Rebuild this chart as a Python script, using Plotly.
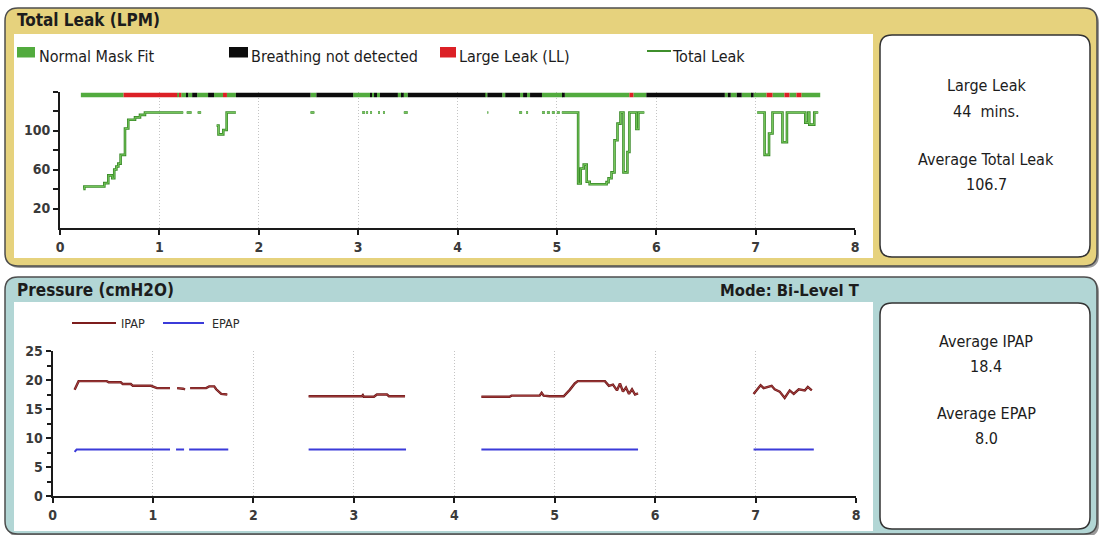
import plotly.graph_objects as go

W, H = 1102, 535
FONT = "DejaVu Sans Condensed, Liberation Sans, Arial, sans-serif"

# ---------------- data ----------------
hour_ticks = [0, 1, 2, 3, 4, 5, 6, 7, 8]
hour_tick_text = ["0", "1", "2", "3", "4", "5", "6", "7", "8"]
leak_ticks = [20, 40, 60, 80, 100, 120, 140]
leak_tick_text = ["20", "", "60", "", "100", "", ""]
pressure_ticks = [0, 5, 10, 15, 20, 25]
pressure_tick_text = ["0", "5", "10", "15", "20", "25"]
pressure_minor_ticks = [2.5, 7.5, 12.5, 17.5, 22.5]

# mask-fit status band: segment start (hours) and status code
status_start = [0.21, 0.64, 1.18, 1.20, 1.22, 1.27, 1.29, 1.33, 1.38, 1.49, 1.55, 1.64, 1.68,
                1.77, 2.52, 2.58, 2.95, 3.12, 3.14, 3.16, 3.19, 3.22, 3.40, 3.44, 3.46, 3.50,
                4.28, 4.30, 4.45, 4.48, 4.63, 4.66, 4.70, 4.73, 4.85, 5.06, 5.08, 5.73, 5.77,
                5.90, 6.69, 6.72, 6.75, 6.81, 6.86, 6.96, 6.98, 7.11, 7.17, 7.29, 7.34, 7.41, 7.46]
status_code = ["N", "L", "N", "L", "N", "B", "N", "B", "N", "B", "N", "L", "N",
               "B", "N", "B", "N", "B", "N", "B", "N", "B", "N", "B", "N", "B",
               "N", "B", "N", "B", "N", "B", "N", "B", "N", "B", "N", "L", "N",
               "B", "N", "B", "N", "B", "N", "B", "N", "L", "N", "L", "N", "L", "N"]
status_stop = 7.65
status_names = {"N": "Normal Mask Fit", "B": "Breathing not detected", "L": "Large Leak (LL)"}
status_colors = {"N": "#52ab3e", "B": "#0c0c0c", "L": "#dc2026"}

# total leak (LPM), step line, None = no data
leak_hours = [0.234, 0.245, 0.446, 0.486, 0.526, 0.546, 0.567, 0.587, 0.61, 0.654, 0.687, 0.755, 0.805, 0.855, 1.24, None,
              1.275, 1.325, None, 1.385, 1.42, None,
              1.576, 1.595, 1.643, 1.677, 1.77, None,
              2.52, 2.56, None, 3.04, 3.07, None, 3.08, 3.10, None, 3.12, 3.14, None, 3.20, 3.22, None,
              3.25, 3.27, None, 3.46, 3.50, None, 4.30, 4.31, None, 4.62, 4.65, None, 4.69, 4.71, None,
              4.85, 4.88, None, 4.90, 4.93, None, 4.95, 4.98, None, 5.00, 5.03, None,
              5.05, 5.214, 5.24, 5.27, 5.30, 5.33, 5.50, 5.52, 5.55, 5.58, 5.61, 5.64, 5.67, 5.71, 5.73, 5.80, 5.82, 5.88, None,
              7.015, 7.09, 7.135, 7.17, 7.27, 7.315, 7.50, 7.53, 7.54, 7.59, 7.63]
leak_lpm = [40, 42.5, 46, 54, 51, 60, 63, 66, 75, 102, 111, 113.5, 116, 118.5, 118.5, None,
            118.5, 118.5, None, 118.5, 118.5, None,
            105, 96, 100.5, 118.5, 118.5, None,
            118.5, 118.5, None, 118.5, 118.5, None, 118.5, 118.5, None, 118.5, 118.5, None, 118.5, 118.5, None,
            118.5, 118.5, None, 118.5, 118.5, None, 118.5, 118.5, None, 118.5, 118.5, None, 118.5, 118.5, None,
            118.5, 118.5, None, 118.5, 118.5, None, 118.5, 118.5, None, 118.5, 118.5, None,
            118.5, 45.8, 61, 65, 47.5, 44.8, 47, 51, 57, 90, 107, 118.5, 57, 78, 118.5, 101.5, 118.5, 118.5, None,
            118.5, 75, 97, 118.5, 88, 118.5, 108, 118.5, 106, 118.5, 118.5]

# pressures (cmH2O)
ipap_hours = [0.22, 0.25, 0.26, 0.54, 0.56, 0.68, 0.70, 0.78, 0.80, 0.98, 1.00, 1.02, 1.04, 1.17, None,
              1.24, 1.29, 1.30, 1.32, None,
              1.37, 1.53, 1.56, 1.61, 1.63, 1.66, 1.68, 1.74, None,
              2.55, 3.08, 3.09, 3.10, 3.20, 3.23, 3.33, 3.35, 3.51, None,
              4.27, 4.55, 4.57, 4.85, 4.87, 4.89, 4.95, 5.09, 5.15, 5.20, 5.23, 5.50, 5.54, 5.58, 5.62,
              5.65, 5.68, 5.71, 5.74, 5.77, 5.80, 5.83, None,
              6.98, 7.01, 7.05, 7.08, 7.12, 7.16, 7.19, 7.24, 7.29, 7.34, 7.38, 7.43, 7.49, 7.52, 7.56]
ipap_cmh2o = [18.3, 19.4, 19.8, 19.8, 19.6, 19.6, 19.3, 19.3, 19.0, 19.0, 18.9, 18.8, 18.6, 18.6, None,
              18.6, 18.6, 18.5, 18.4, None,
              18.6, 18.6, 18.9, 18.9, 18.4, 17.9, 17.6, 17.5, None,
              17.2, 17.2, 17.4, 17.1, 17.1, 17.5, 17.5, 17.2, 17.2, None,
              17.1, 17.1, 17.3, 17.3, 17.8, 17.3, 17.2, 17.2, 18.3, 19.4, 19.8, 19.8, 19.0, 19.2, 18.2,
              19.4, 18.0, 18.7, 17.6, 18.4, 17.5, 17.7, None,
              17.6, 18.3, 19.1, 18.6, 18.8, 19.0, 18.4, 18.0, 16.9, 18.2, 17.6, 18.4, 18.2, 18.8, 18.2]
epap_hours = [0.22, 0.24, 1.17, None, 1.23, 1.31, None, 1.36, 1.75, None,
              2.55, 3.52, None, 4.27, 5.83, None, 6.98, 7.58]
epap_cmh2o = [7.6, 8.0, 8.0, None, 8.0, 8.0, None, 8.0, 8.0, None,
              8.0, 8.0, None, 8.0, 8.0, None, 8.0, 8.0]

leak_summary = [("Large Leak", 85), ("44\u00a0 mins.", 111), ("Average Total Leak", 159), ("106.7", 185)]
pressure_summary = [("Average IPAP", 341), ("18.4", 366), ("Average EPAP", 413), ("8.0", 438)]

# ---------------- helpers (pixel -> paper) ----------------
def fx(x):
    return x / W


def fy(y):
    return 1 - y / H


def rrect(x0, y0, x1, y1, r):
    P = lambda x, y: f"{fx(x):.5f},{fy(y):.5f}"
    return (f"M{P(x0 + r, y0)} L{P(x1 - r, y0)} Q{P(x1, y0)} {P(x1, y0 + r)} "
            f"L{P(x1, y1 - r)} Q{P(x1, y1)} {P(x1 - r, y1)} L{P(x0 + r, y1)} "
            f"Q{P(x0, y1)} {P(x0, y1 - r)} L{P(x0, y0 + r)} Q{P(x0, y0)} {P(x0 + r, y0)} Z")


shapes = []
annotations = []


def add_path(path, fill, line_color=None, line_width=0):
    shapes.append(dict(type="path", path=path, xref="paper", yref="paper", fillcolor=fill,
                       line=dict(color=line_color or fill, width=line_width), layer="below"))


def add_rect(x0, y0, x1, y1, fill):
    shapes.append(dict(type="rect", xref="paper", yref="paper", x0=fx(x0), x1=fx(x1), y0=fy(y1), y1=fy(y0),
                       fillcolor=fill, line=dict(width=0), layer="below"))


def add_line(x0, y0, x1, y1, color, width):
    shapes.append(dict(type="line", xref="paper", yref="paper", x0=fx(x0), x1=fx(x1), y0=fy(y0), y1=fy(y1),
                       line=dict(color=color, width=width), layer="above"))


def add_text(x, y, s, size, bold=False, anchor="left", color="#1c1c1c"):
    annotations.append(dict(x=fx(x), y=fy(y), xref="paper", yref="paper", text=s, showarrow=False,
                            xanchor=anchor, yanchor="middle",
                            font=dict(family=FONT, size=size, color=color,
                                      weight="bold" if bold else "normal")))


GOLD = "#e6d27d"
TEAL = "#b2d6d5"
BORDER = "#4d4d4d"

# top panel
add_path(rrect(7, 10, 1099, 268, 13), "#9a9a9a")
add_path(rrect(5, 8, 1097, 266, 13), GOLD, BORDER, 1.5)
add_rect(14, 34, 873, 258, "white")
add_path(rrect(880, 35, 1090, 257, 12), "white", "#333333", 1.5)
# bottom panel
add_path(rrect(7, 279, 1099, 537, 13), "#9a9a9a")
add_path(rrect(5, 277, 1097, 534, 13), TEAL, BORDER, 1.5)
add_rect(14, 302, 873, 531, "white")
add_path(rrect(880, 303, 1090, 529, 12), "white", "#333333", 1.5)

# titles
add_text(15, 20, "Total Leak (LPM)", 17, bold=True)
add_text(15, 290, "Pressure (cmH2O)", 17, bold=True)
add_text(862, 290, "Mode: Bi-Level T", 16.5, bold=True, anchor="right")

# top legend
legend_items = [("N", 17, 35, 37), ("B", 229, 248, 249), ("L", 440, 456, 457)]
for code, x0, x1, tx in legend_items:
    add_rect(x0, 47, x1, 57.5, status_colors[code])
    add_text(tx, 57, status_names[code], 16)
add_line(647, 51, 671, 51, "#3f8f2c", 2)
add_text(670, 57, "Total Leak", 16)

# bottom legend
add_line(72, 323, 116, 323, "#7d1d1d", 2)
add_text(119, 323, "IPAP", 12.5, color="#2a2a2a")
add_line(163, 323, 204, 323, "#3b3bd9", 2)
add_text(210, 323, "EPAP", 12.5, color="#2a2a2a")

# summary boxes
for s, y in leak_summary:
    add_text(986, y, s, 16, anchor="center")
for s, y in pressure_summary:
    add_text(986, y, s, 16, anchor="center")

# ---------------- traces ----------------
fig = go.Figure()

status_end = status_start[1:] + [status_stop]
for code in ["N", "B", "L"]:
    bases = [s for s, c in zip(status_start, status_code) if c == code]
    widths = [e - s for s, e, c in zip(status_start, status_end, status_code) if c == code]
    fig.add_trace(go.Bar(orientation="h", y=[136.5] * len(bases), x=widths, base=bases, width=4.6,
                         marker=dict(color=status_colors[code], line=dict(width=0)),
                         name=status_names[code], xaxis="x", yaxis="y"))

fig.add_trace(go.Scatter(x=leak_hours, y=leak_lpm, mode="lines", connectgaps=False,
                         line=dict(shape="hv", color="#3b8a2a", width=2.6),
                         hoverinfo="skip", showlegend=False, xaxis="x", yaxis="y"))
fig.add_trace(go.Scatter(x=leak_hours, y=leak_lpm, mode="lines", connectgaps=False,
                         line=dict(shape="hv", color="#7ccf60", width=0.9),
                         name="Total Leak", xaxis="x", yaxis="y"))

fig.add_trace(go.Scatter(x=epap_hours, y=epap_cmh2o, mode="lines", connectgaps=False,
                         line=dict(color="#3b3bd9", width=2), name="EPAP", xaxis="x2", yaxis="y2"))
fig.add_trace(go.Scatter(x=ipap_hours, y=ipap_cmh2o, mode="lines", connectgaps=False,
                         line=dict(color="#6e1a1a", width=2.4), hoverinfo="skip", showlegend=False,
                         xaxis="x2", yaxis="y2"))
fig.add_trace(go.Scatter(x=ipap_hours, y=ipap_cmh2o, mode="lines", connectgaps=False,
                         line=dict(color="#b04545", width=0.9), name="IPAP", xaxis="x2", yaxis="y2"))

# ---------------- axes ----------------
tickfont = dict(family=FONT, size=14, color="#3a3a3a", weight="bold")
axis_common = dict(showline=True, linecolor="#1a1a1a", linewidth=2, ticks="outside", tickcolor="#1a1a1a",
                   tickwidth=1.5, ticklen=5, zeroline=False, tickfont=tickfont, fixedrange=True,
                   automargin=False)
xgrid = dict(showgrid=True, gridcolor="#c4c4c4", gridwidth=1, griddash="1px,2px")

fig.update_layout(
    width=W, height=H, margin=dict(l=0, r=0, t=0, b=0, pad=0, autoexpand=False), autosize=False,
    paper_bgcolor="white", plot_bgcolor="rgba(0,0,0,0)", showlegend=False, barmode="overlay",
    shapes=shapes, annotations=annotations,
    xaxis=dict(domain=[fx(60), fx(855)], range=[0, 8], tickmode="array", tickvals=hour_ticks,
               ticktext=hour_tick_text, anchor="y", **xgrid, **axis_common),
    yaxis=dict(domain=[fy(228), fy(91.5)], range=[0, 140], tickmode="array", tickvals=leak_ticks,
               ticktext=leak_tick_text, anchor="x", showgrid=False, **axis_common),
    xaxis2=dict(domain=[fx(52.5), fx(856)], range=[0, 8], tickmode="array", tickvals=hour_ticks,
                ticktext=hour_tick_text, anchor="y2", **xgrid, **axis_common),
    yaxis2=dict(domain=[fy(496), fy(351)], range=[0, 25], tickmode="array", tickvals=pressure_ticks,
                ticktext=pressure_tick_text, anchor="x2", showgrid=False,
                minor=dict(tickmode="array", tickvals=pressure_minor_ticks, ticks="outside", ticklen=4,
                           tickcolor="#1a1a1a", tickwidth=1.5, showgrid=False),
                **axis_common),
)

fig.write_html("out.html", config={"displayModeBar": False, "responsive": False},
               post_script="document.body.style.margin='0';document.body.style.overflow='hidden';")
